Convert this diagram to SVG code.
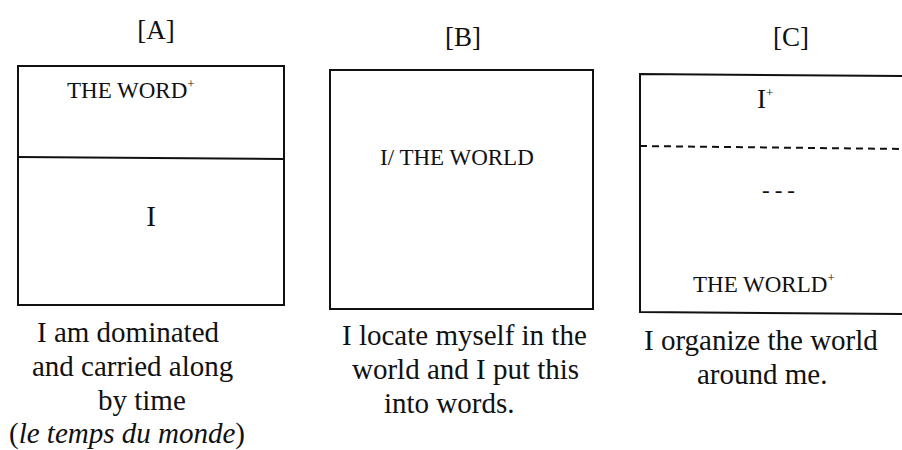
<svg xmlns="http://www.w3.org/2000/svg" width="902" height="450" viewBox="0 0 902 450">
<style>
text{font-family:"Liberation Serif","Times New Roman",serif;fill:#111;}
.t{font-size:27px;text-anchor:middle;}
.b{font-size:23px;}
.c{font-size:29px;}
.sup{font-size:13px;}
.box{fill:none;stroke:#111;stroke-width:2;}
.ln{stroke:#111;stroke-width:2;fill:none;}
.dash{stroke:#111;stroke-width:2;stroke-dasharray:7,5;fill:none;}
</style>
<rect width="902" height="450" fill="#fff"/>
<g id="panelA">
<text class="t" x="156" y="39">[A]</text>
<rect class="box" x="18" y="66" width="266" height="239"/>
<line class="ln" x1="18" y1="157" x2="284" y2="159"/>
<text class="b" x="67" y="98">THE WORD<tspan class="sup" dy="-10">+</tspan></text>
<text x="151" y="226" font-size="29" text-anchor="middle">I</text>
<text class="c" x="37" y="342">I am dominated</text>
<text class="c" x="32" y="376">and carried along</text>
<text class="c" x="98" y="410">by time</text>
<text class="c" x="9" y="443">(<tspan font-style="italic">le temps du monde</tspan>)</text>
</g>
<g id="panelB">
<text class="t" x="463" y="46">[B]</text>
<rect class="box" x="330" y="70" width="263" height="239"/>
<text class="b" x="380" y="165" font-size="23.5">I/ THE WORLD</text>
<text class="c" x="342" y="345">I locate myself in the</text>
<text class="c" x="352" y="379">world and I put this</text>
<text class="c" x="384" y="413">into words.</text>
</g>
<g id="panelC">
<text class="t" x="791" y="46" font-size="26">[C]</text>
<path class="ln" d="M903,76 L640,74 L640,312 L903,314"/>
<line class="dash" x1="640" y1="146" x2="903" y2="149"/>
<text x="757" y="108" font-size="27">I<tspan class="sup" dy="-11">+</tspan></text>
<text class="b" x="762" y="198" font-size="26" letter-spacing="5">---</text>
<text class="b" x="693" y="292" font-size="23.5">THE WORLD<tspan class="sup" dy="-10">+</tspan></text>
<text class="c" x="644" y="350">I organize the world</text>
<text class="c" x="697" y="384">around me.</text>
</g>
</svg>
